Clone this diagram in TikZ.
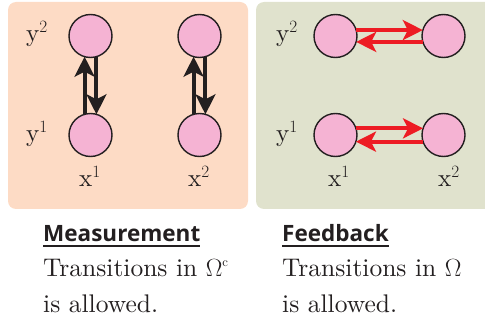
\documentclass[tikz,border=0pt]{standalone}
\usepackage{fontspec}
\setmainfont{lmroman10-regular.otf}
\newfontfamily\headfont{Open Sans}
\usetikzlibrary{arrows.meta}
\definecolor{peach}{HTML}{FDDBC5}
\definecolor{sage}{HTML}{E0E2CD}
\definecolor{statepink}{HTML}{F5B3D3}
\definecolor{hopred}{HTML}{ED1C24}
\definecolor{ink}{HTML}{231F20}
\begin{document}
\begin{tikzpicture}[x=1pt,y=-1pt,
  state/.style={circle,draw=ink,line width=1.4pt,fill=statepink,
    minimum size=43pt,inner sep=0pt,outer sep=0pt},
  lab/.style={font=\fontsize{25}{30}\selectfont,inner sep=0pt,anchor=base,text=ink},
  body/.style={font=\fontsize{25.5}{30}\selectfont,inner sep=0pt,anchor=base west,text=ink},
  head/.style={font=\headfont\bfseries\fontsize{22.5}{26}\selectfont,inner sep=0pt,anchor=base west,text=ink},
  hop/.style={line width=4pt,-{Stealth[length=20pt,width=20pt,inset=5pt]}},
  blackhop/.style={hop,draw=ink},
  redhop/.style={hop,draw=hopred}]
\useasboundingbox (0,0) rectangle (485,326);
\clip (0,0) rectangle (485,326);

% panels
\fill[peach,rounded corners=8pt] (8,2) rectangle (248,209);
\fill[sage,rounded corners=8pt] (256,2) rectangle (500,209);

% measurement states
\node[state] (m12) at (90.5,36) {};
\node[state] (m11) at (90.5,135) {};
\node[state] (m22) at (199.5,36) {};
\node[state] (m21) at (199.5,135) {};

% feedback states
\node[state] (f12) at (335.5,36) {};
\node[state] (f22) at (443.5,36) {};
\node[state] (f11) at (335.5,135) {};
\node[state] (f21) at (443.5,135) {};

% measurement transitions (vertical)
\draw[blackhop] (m11.106) -- (m12.254);
\draw[blackhop] (m12.286) -- (m11.74);
\draw[blackhop] (m21.106) -- (m22.254);
\draw[blackhop] (m22.286) -- (m21.74);

% feedback transitions (horizontal)
\draw[redhop] (f12.16) -- (f22.164);
\draw[redhop] (f22.196) -- (f12.344);
\draw[redhop] (f11.18) -- (f21.162);
\draw[redhop] (f21.198) -- (f11.342);

% axis labels
\node[lab] (ly2) at (37,42) {$\mathrm{y}^2$};
\node[lab] (ly1) at (37,142) {$\mathrm{y}^1$};
\node[lab] (lx1) at (90,187) {$\mathrm{x}^1$};
\node[lab] (lx2) at (199,187) {$\mathrm{x}^2$};
\node[lab] (ry2) at (287,42) {$\mathrm{y}^2$};
\node[lab] (ry1) at (287,142) {$\mathrm{y}^1$};
\node[lab] (rx1) at (339,187) {$\mathrm{x}^1$};
\node[lab] (rx2) at (449,187) {$\mathrm{x}^2$};

% captions
\node[head] (mhead) at (43,241) {Measurement};
\draw[ink,line width=1.8pt] ([yshift=-5pt]mhead.base west) -- ([yshift=-5pt]mhead.base east);
\node[body] (mline1) at (43,276) {Transitions in $\Omega^{\scriptscriptstyle\mathrm{c}}$};
\node[body] (mline2) at (43,312) {is allowed.};

\node[head] (fhead) at (282,241) {Feedback};
\draw[ink,line width=1.8pt] ([yshift=-5pt]fhead.base west) -- ([yshift=-5pt]fhead.base east);
\node[body] (fline1) at (282,276) {Transitions in $\Omega$};
\node[body] (fline2) at (282,312) {is allowed.};
\end{tikzpicture}
\end{document}
